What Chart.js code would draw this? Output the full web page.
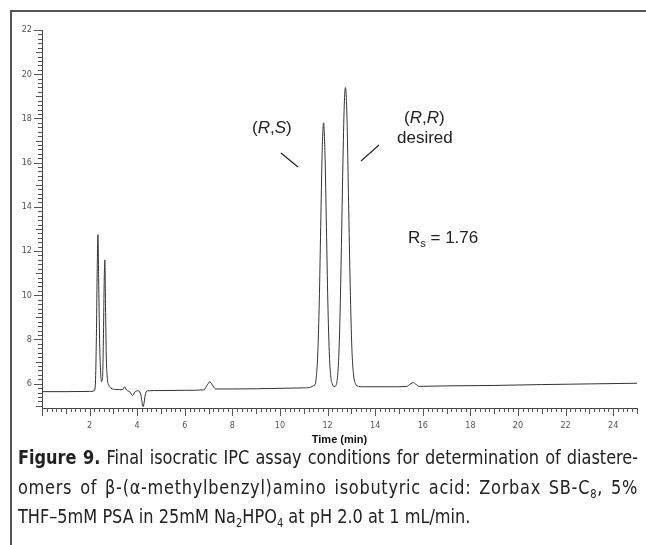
<!DOCTYPE html>
<html>
<head>
<meta charset="utf-8">
<script src="https://cdn.jsdelivr.net/npm/chart.js@4.4.1/dist/chart.umd.min.js"></script>
<style>
    html, body { margin: 0; padding: 0; background: #fff; }
    #wrap { position: relative; width: 646px; height: 545px; overflow: hidden; }
    #frame { position: absolute; left: 10px; top: 10px; width: 700px; height: 600px;
             border-top: 2px solid #555; border-left: 2px solid #555; }
    #chart { position: absolute; left: 0; top: 0; }
    .note { position: absolute; font-family: 'Liberation Sans', Arial, sans-serif; font-size: 17px;
            color: #222; white-space: nowrap; line-height: 1; }
    .cap { position: absolute; left: 18px; width: 674px; font-family: 'Liberation Sans Narrow', 'DejaVu Sans Condensed', sans-serif;
           font-size: 19.5px; color: #222; white-space: nowrap; line-height: 1;
           transform: scaleX(0.92); transform-origin: 0 0; }
    .cap.j { text-align: justify; text-align-last: justify; }
    .cap sub { font-size: 12px; line-height: 0; vertical-align: -4px; }
    svg { position: absolute; left: 0; top: 0; }
</style>
</head>
<body>
<div id="wrap">
    <div id="frame"></div>
    <canvas id="chart" width="646" height="450"></canvas>
    <svg width="646" height="450">
        <line x1="281" y1="153" x2="298" y2="167" stroke="#222" stroke-width="1.2"/>
        <line x1="379" y1="145" x2="361" y2="161" stroke="#222" stroke-width="1.2"/>
    </svg>
    <div class="note" style="left:252px; top:119px;">(<i>R</i>,<i>S</i>)</div>
    <div class="note" style="left:404px; top:109px;">(<i>R</i>,<i>R</i>)</div>
    <div class="note" style="left:397px; top:129px;">desired</div>
    <div class="note" style="left:408px; top:229px;">R<sub style="font-size:11px">s</sub> = 1.76</div>

    <div class="cap j" style="top:448px;"><b>Figure 9.</b> Final isocratic IPC assay conditions for determination of diastere-</div>
    <div class="cap j" style="top:478px; letter-spacing:0.8px;">omers of β-(α-methylbenzyl)amino isobutyric acid: Zorbax SB-C<sub>8</sub>, 5%</div>
    <div class="cap" style="top:507px;">THF–5mM PSA in 25mM Na<sub>2</sub>HPO<sub>4</sub> at pH 2.0 at 1 mL/min.</div>
</div>

<script>
// chromatogram: time (min) / detector signal
const times = [
    0.0, 1.0, 2.0, 2.2, 2.25, 2.29, 2.32, 2.35, 2.38, 2.42, 2.46, 2.50,
    2.54, 2.58, 2.61, 2.64, 2.67, 2.70, 2.74, 2.80, 2.9, 3.1, 3.4, 3.47,
    3.55, 3.7, 3.8, 3.9, 4.05, 4.15, 4.25, 4.35, 4.45, 5.0, 6.0, 6.8,
    6.95, 7.05, 7.15, 7.3, 8.0, 9.0, 10.0, 11.0, 11.47, 11.53, 11.59, 11.65,
    11.71, 11.77, 11.83, 11.89, 11.95, 12.01, 12.07, 12.13, 12.20, 12.28, 12.34, 12.40,
    12.46, 12.52, 12.58, 12.64, 12.70, 12.75, 12.81, 12.88, 12.95, 13.02, 13.09, 13.17,
    13.3, 13.5, 14.5, 15.3, 15.5, 15.6, 15.7, 15.85, 17.0, 19.0, 21.0, 23.0, 25.0
];
const signal = [
    5.64, 5.64, 5.65, 5.68, 6.2, 8.5, 11.2, 12.74, 10.8, 8.0, 6.6, 6.1,
    6.2, 8.0, 10.4, 11.6, 9.5, 7.3, 6.3, 5.95, 5.8, 5.74, 5.73, 5.86,
    5.72, 5.62, 5.46, 5.62, 5.68, 5.5, 4.96, 5.55, 5.68, 5.69, 5.70, 5.72,
    5.95, 6.09, 5.95, 5.76, 5.76, 5.77, 5.79, 5.81, 5.96, 6.36, 7.45, 9.7,
    13.1, 16.4, 17.8, 16.4, 13.1, 9.7, 7.45, 6.36, 5.98, 5.87, 5.9, 6.15,
    7.0, 9.0, 12.2, 15.8, 18.6, 19.4, 18.2, 14.3, 10.4, 7.6, 6.4, 6.0,
    5.88, 5.86, 5.86, 5.87, 6.0, 6.05, 5.98, 5.88, 5.9, 5.92, 5.96, 5.99, 6.02
];

const xLabels = [2, 4, 6, 8, 10, 12, 14, 16, 18, 20, 22, 24];
const yLabels = [6, 8, 10, 12, 14, 16, 18, 20, 22];

const tickFont = { family: "'Liberation Sans Narrow', 'DejaVu Sans Condensed', sans-serif", size: 9 };

// minor ticks every 0.2, longer ones on whole units and labels
const minorTicks = {
    id: 'minorTicks',
    afterDraw(chart) {
        const { ctx, chartArea, scales } = chart;
        ctx.save();
        ctx.strokeStyle = '#555';
        ctx.lineWidth = 1;
        ctx.beginPath();
        for (let i = 0; i <= 125; i++) {
            const v = i / 5;
            const px = Math.round(scales.x.getPixelForValue(v)) + 0.5;
            const len = i % 10 === 0 ? 8 : (i % 5 === 0 ? 6 : 4);
            ctx.moveTo(px, chartArea.bottom);
            ctx.lineTo(px, chartArea.bottom + len);
        }
        for (let i = 25; i <= 110; i++) {
            const v = i / 5;
            if (v < scales.y.min) continue;
            const py = Math.round(scales.y.getPixelForValue(v)) + 0.5;
            const len = i % 10 === 0 ? 8 : (i % 5 === 0 ? 6 : 4);
            ctx.moveTo(chartArea.left, py);
            ctx.lineTo(chartArea.left - len, py);
        }
        ctx.stroke();
        ctx.restore();
    }
};

document.addEventListener('DOMContentLoaded', function () {
    const ctx = document.getElementById('chart').getContext('2d');

    new Chart(ctx, {
        type: 'line',
        data: {
            datasets: [{
                data: times.map((t, i) => ({ x: t, y: signal[i] })),
                borderColor: '#333',
                borderWidth: 1,
                pointRadius: 0,
                fill: false,
                cubicInterpolationMode: 'monotone'
            }]
        },
        options: {
            responsive: false,
            animation: false,
            layout: { padding: { left: 0, top: 30, right: 9, bottom: 0 } },
            plugins: {
                legend: { display: false },
                tooltip: { enabled: false }
            },
            scales: {
                x: {
                    type: 'linear',
                    min: 0,
                    max: 25,
                    afterBuildTicks: s => { s.ticks = xLabels.map(v => ({ value: v })); },
                    afterFit: s => { s.height = 42; },
                    ticks: { font: tickFont, color: '#555', padding: 12, maxRotation: 0 },
                    grid: { display: true, drawOnChartArea: false, drawTicks: false },
                    border: { display: true, color: '#444', width: 1 },
                    title: {
                        display: true,
                        text: 'Time (min)',
                        color: '#111',
                        font: { family: "'Liberation Sans', Arial, sans-serif", size: 11, weight: 'bold' },
                        padding: { top: 0, bottom: 3 }
                    }
                },
                y: {
                    type: 'linear',
                    min: 4.9,
                    max: 22,
                    afterBuildTicks: s => { s.ticks = yLabels.map(v => ({ value: v })); },
                    afterFit: s => { s.width = 42; },
                    ticks: { font: tickFont, color: '#555', padding: 10 },
                    grid: { display: true, drawOnChartArea: false, drawTicks: false },
                    border: { display: true, color: '#444', width: 1 }
                }
            }
        },
        plugins: [minorTicks]
    });
});
</script>
</body>
</html>
